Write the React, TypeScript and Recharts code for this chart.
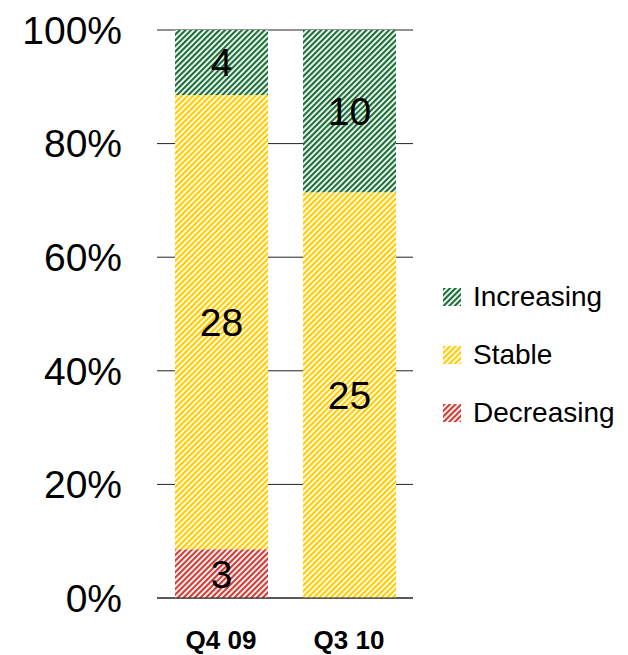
import React from "react";
import {
  BarChart,
  Bar,
  XAxis,
  YAxis,
  CartesianGrid,
  LabelList,
} from "recharts";

const periods = ["Q4 09", "Q3 10"];
const decreasing = [3, 0];
const stable = [28, 25];
const increasing = [4, 10];
const percentTicks = [0, 0.2, 0.4, 0.6, 0.8, 1];

const FONT = "'Liberation Sans', Arial, sans-serif";

const series = [
  { key: "decreasing", name: "Decreasing", color: "#d03c36" },
  { key: "stable", name: "Stable", color: "#ffcc00" },
  { key: "increasing", name: "Increasing", color: "#1a7038" },
];

const data = periods.map((p, i) => ({
  period: p,
  decreasing: decreasing[i],
  stable: stable[i],
  increasing: increasing[i],
}));

function HatchLegend() {
  const items = [...series].reverse();
  return (
    <div
      style={{
        position: "absolute",
        left: 435,
        top: 260,
        fontFamily: FONT,
        fontSize: 28,
        color: "#000",
      }}
    >
      {items.map((s) => (
        <div
          key={s.key}
          style={{ display: "flex", alignItems: "center", height: 58 }}
        >
          <svg width={18} height={18} style={{ marginRight: 12 }}>
            <rect width={18} height={18} fill={`url(#hatch-${s.key})`} />
          </svg>
          <span>{s.name}</span>
        </div>
      ))}
    </div>
  );
}

export default function App() {
  return (
    <div style={{ position: "relative", width: 620, height: 647, fontFamily: FONT }}>
      <BarChart
        width={620}
        height={647}
        data={data}
        stackOffset="expand"
        margin={{ top: 22, right: 215, left: 0, bottom: 0 }}
      >
        <defs>
          {series.map((s) => (
            <pattern
              key={s.key}
              id={`hatch-${s.key}`}
              patternUnits="userSpaceOnUse"
              width={4}
              height={4}
              patternTransform="rotate(45)"
            >
              <rect width={4} height={4} fill="#ffffff" />
              <rect width={2.2} height={4} fill={s.color} />
            </pattern>
          ))}
        </defs>
        <CartesianGrid vertical={false} stroke="#222" />
        <XAxis
          dataKey="period"
          height={57}
          tickLine={false}
          tickSize={0}
          tickMargin={33}
          axisLine={{ stroke: "#222" }}
          tick={{ fontSize: 26, fontWeight: "bold", fill: "#000", fontFamily: FONT }}
        />
        <YAxis
          width={149}
          domain={[0, 1]}
          ticks={percentTicks}
          tickFormatter={(v: number) => `${Math.round(v * 100)}%`}
          axisLine={false}
          tickLine={false}
          tickSize={0}
          tickMargin={35}
          tick={{ fontSize: 39, fill: "#000", fontFamily: FONT }}
        />
        {series.map((s) => (
          <Bar
            key={s.key}
            dataKey={s.key}
            name={s.name}
            stackId="share"
            barSize={93}
            fill={`url(#hatch-${s.key})`}
            isAnimationActive={false}
          >
            <LabelList
              dataKey={s.key}
              position="center"
              formatter={(v: number) => (v ? v : "")}
              style={{ fontSize: 39, fill: "#000", fontFamily: FONT }}
            />
          </Bar>
        ))}
      </BarChart>
      <HatchLegend />
    </div>
  );
}
